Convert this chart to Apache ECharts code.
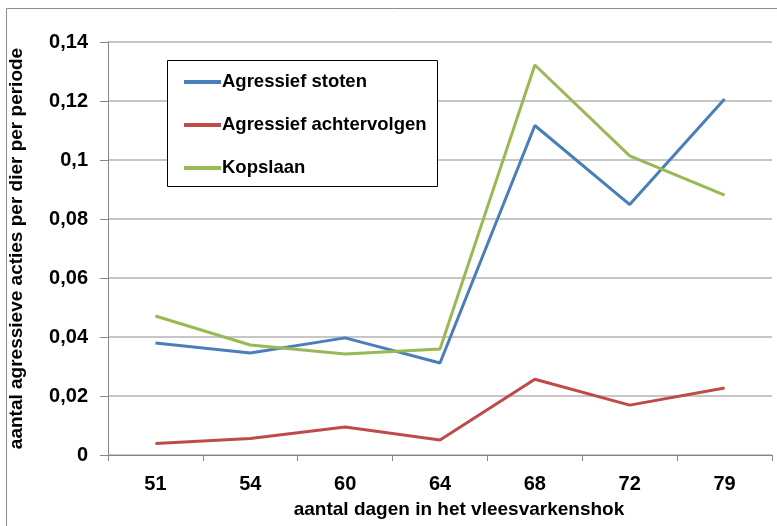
<!DOCTYPE html>
<html>
<head>
<meta charset="utf-8">
<script src="https://cdn.jsdelivr.net/npm/echarts@6/dist/echarts.min.js"></script>
<style>
  html, body { margin: 0; padding: 0; background: #fff; }
  #chart { width: 777px; height: 526px; }
</style>
</head>
<body>
<div id="chart"></div>
<script>
const days = ['51', '54', '60', '64', '68', '72', '79']
const stoten = [0.038, 0.0346, 0.0397, 0.0312, 0.1117, 0.0849, 0.1207]
const achtervolgen = [0.0039, 0.0056, 0.0095, 0.0051, 0.0257, 0.0169, 0.0227]
const kopslaan = [0.0471, 0.0373, 0.0342, 0.0359, 0.1322, 0.1014, 0.0881]

const font = '"Liberation Sans", Arial, sans-serif'

const chart = echarts.init(document.getElementById('chart'))

const lineSeries = (name, data, color) => ({
  name,
  type: 'line',
  data,
  symbol: 'none',
  lineStyle: { color, width: 3 },
  itemStyle: { color },
  animation: false
})

chart.setOption({
  animation: false,
  graphic: [
    {
      type: 'rect',
      shape: { x: 6.5, y: 8.5, width: 800, height: 600 },
      style: { fill: 'none', stroke: '#8c8c8c', lineWidth: 1 },
      z: -1
    },
    {
      type: 'rect',
      shape: { x: 167.5, y: 60.5, width: 270, height: 126 },
      style: { fill: '#fff', stroke: '#000', lineWidth: 1 },
      z: 5
    }
  ],
  legend: {
    orient: 'vertical',
    left: 179,
    top: 66,
    itemWidth: 37,
    itemHeight: 4,
    itemGap: 21,
    icon: 'rect',
    z: 10,
    textStyle: {
      fontFamily: font,
      fontWeight: 'bold',
      fontSize: 18.5,
      color: '#000',
      lineHeight: 22,
      padding: [0, 0, 0, -4]
    },
    data: ['Agressief stoten', 'Agressief achtervolgen', 'Kopslaan']
  },
  grid: { left: 108, top: 42, right: 5, bottom: 71, outerBoundsMode: 'none' },
  xAxis: {
    type: 'category',
    data: days,
    boundaryGap: true,
    name: 'aantal dagen in het vleesvarkenshok',
    nameLocation: 'middle',
    nameGap: 45,
    nameTextStyle: { fontFamily: font, fontWeight: 'bold', fontSize: 19, color: '#000', padding: [0, 0, 0, 38] },
    axisLine: { lineStyle: { color: '#868686', width: 1 } },
    axisTick: { show: true, length: 6, interval: 0, lineStyle: { color: '#868686' } },
    axisLabel: { fontFamily: font, fontWeight: 'bold', fontSize: 20, color: '#000', margin: 19 }
  },
  yAxis: {
    type: 'value',
    min: 0,
    max: 0.14,
    interval: 0.02,
    name: 'aantal agressieve acties per dier per periode',
    nameLocation: 'middle',
    nameGap: 82,
    nameTextStyle: { fontFamily: font, fontWeight: 'bold', fontSize: 19, color: '#000' },
    axisLine: { show: true, lineStyle: { color: '#868686', width: 1 } },
    axisTick: { show: true, length: 8, lineStyle: { color: '#868686' } },
    axisLabel: {
      fontFamily: font,
      fontWeight: 'bold',
      fontSize: 20,
      color: '#000',
      margin: 20,
      formatter: v => String(parseFloat(v.toFixed(2))).replace('.', ',')
    },
    splitLine: { lineStyle: { color: '#b3b3b3', width: 1.5 } }
  },
  series: [
    lineSeries('Agressief stoten', stoten, '#4a7ebb'),
    lineSeries('Agressief achtervolgen', achtervolgen, '#be4b48'),
    lineSeries('Kopslaan', kopslaan, '#98b954')
  ]
})
</script>
</body>
</html>
